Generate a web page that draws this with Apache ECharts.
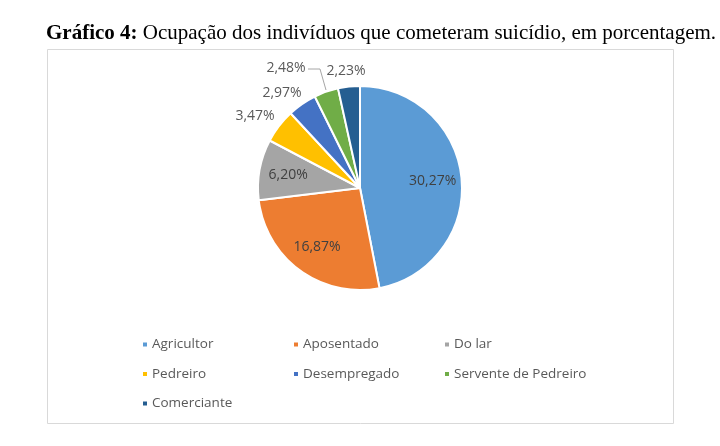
<!DOCTYPE html>
<html>
<head>
<meta charset="utf-8">
<script src="https://cdn.jsdelivr.net/npm/echarts@6/dist/echarts.min.js"></script>
<style>
  html, body { margin: 0; padding: 0; background: #fff; }
  #main { width: 720px; height: 446px; }
</style>
</head>
<body>
<div id="main"></div>
<script>
// ocupacoes e porcentagens
var ocupacoes = ['Agricultor', 'Aposentado', 'Do lar', 'Pedreiro', 'Desempregado', 'Servente de Pedreiro', 'Comerciante'];
var porcentagens = [30.27, 16.87, 6.20, 3.47, 2.97, 2.48, 2.23];
var cores = ['#5B9BD5', '#ED7D31', '#A5A5A5', '#FFC000', '#4472C4', '#70AD47', '#255E91'];
// colunas da legenda
var legendaCol1 = ['Agricultor', 'Pedreiro', 'Comerciante'];
var legendaCol2 = ['Aposentado', 'Desempregado'];
var legendaCol3 = ['Do lar', 'Servente de Pedreiro'];

// indices com rotulo dentro / fora da fatia
var dentro = [0, 1, 2];
// posicao dos rotulos externos (estilo, nao dados)
var rotuloFora = {
    3: [255, 116],
    4: [282, 93],
    5: [286, 68, [[308, 69], [320, 69], [326, 90]]],
    6: [346, 71]
};

function fmt(v) {
    return v.toFixed(2).replace('.', ',') + '%';
}

var fonte = '"Open Sans", "Noto Sans", sans-serif';
var centro = [360, 188];
var raio = 102;

var dadosPizza = ocupacoes.map(function (nome, i) {
    var fora = dentro.indexOf(i) < 0;
    return {
        name: nome,
        value: porcentagens[i],
        itemStyle: { color: cores[i] },
        label: { show: fora },
        labelLine: { show: i === 5 }
    };
});

var dadosRotulos = ocupacoes.map(function (nome, i) {
    return {
        name: nome,
        value: porcentagens[i],
        label: { show: dentro.indexOf(i) >= 0 }
    };
});

function legenda(dados, left) {
    return {
        data: dados,
        orient: 'vertical',
        left: left,
        top: 336,
        padding: 0,
        itemGap: 12.5,
        itemWidth: 6,
        itemHeight: 6,
        icon: 'rect',
        selectedMode: false,
        textStyle: { color: '#595959', fontSize: 13.5, fontFamily: fonte, padding: [0, 0, 0, -1], lineHeight: 17 }
    };
}

var myChart = echarts.init(document.getElementById('main'));

option = {
    backgroundColor: '#fff',
    animation: false,
    title: {
        text: '{b|Gráfico 4:} Ocupação dos indivíduos que cometeram suicídio, em porcentagem.',
        left: 46,
        top: 23,
        padding: 0,
        textStyle: {
            fontFamily: '"Liberation Serif", serif',
            fontSize: 21,
            fontWeight: 'normal',
            color: '#000',
            rich: {
                b: { fontFamily: '"Liberation Serif", serif', fontSize: 21, fontWeight: 'bold', color: '#000' }
            }
        }
    },
    graphic: [{
        type: 'rect',
        shape: { x: 47.5, y: 49.5, width: 626, height: 374 },
        style: { fill: 'none', stroke: '#d9d9d9', lineWidth: 1 },
        silent: true
    }],
    legend: [
        legenda(legendaCol1, 141),
        legenda(legendaCol2, 292),
        legenda(legendaCol3, 443)
    ],
    series: [{
        name: 'ocupacao',
        type: 'pie',
        center: centro,
        radius: raio,
        startAngle: 90,
        clockwise: true,
        avoidLabelOverlap: false,
        itemStyle: { borderColor: '#fff', borderWidth: 2 },
        label: {
            position: 'outside',
            color: '#595959',
            fontSize: 14,
            fontFamily: fonte,
            formatter: function (p) { return fmt(p.value); }
        },
        labelLine: {
            length: 8,
            length2: 8,
            lineStyle: { color: '#a6a6a6', width: 1 }
        },
        labelLayout: function (p) {
            var pos = rotuloFora[p.dataIndex];
            if (!pos) return {};
            var r = { x: pos[0], y: pos[1], align: 'center', verticalAlign: 'middle' };
            if (pos[2]) r.labelLinePoints = pos[2];
            return r;
        },
        emphasis: { disabled: true },
        data: dadosPizza
    }, {
        name: 'rotulos',
        type: 'pie',
        center: centro,
        radius: [38, raio],
        startAngle: 90,
        clockwise: true,
        silent: true,
        itemStyle: { color: 'transparent' },
        label: {
            position: 'inside',
            color: '#404040',
            fontSize: 14,
            fontFamily: fonte,
            formatter: function (p) { return fmt(p.value); }
        },
        labelLine: { show: false },
        emphasis: { disabled: true },
        data: dadosRotulos
    }]
};
myChart.setOption(option);
</script>
</body>
</html>
